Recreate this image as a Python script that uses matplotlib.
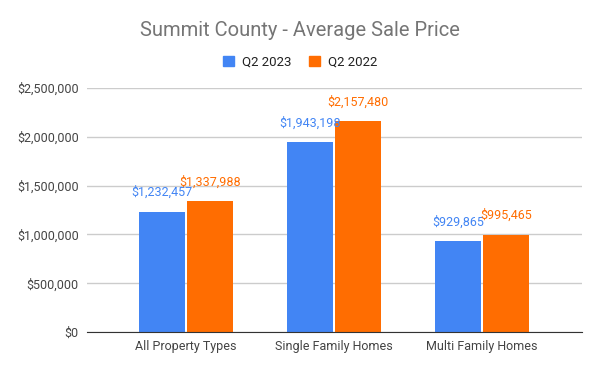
import matplotlib
matplotlib.use("Agg")
import matplotlib.pyplot as plt
import matplotlib.patches as mpatches
import numpy as np

categories = ["All Property Types", "Single Family Homes", "Multi Family Homes"]
q2_2023 = [1232457, 1943198, 929865]
q2_2022 = [1337988, 2157480, 995465]
series_names = ["Q2 2023", "Q2 2022"]
yticks = [0, 500000, 1000000, 1500000, 2000000, 2500000]

blue = "#4285F4"
orange = "#FF6D01"

plt.rcParams["font.family"] = ["Roboto", "DejaVu Sans"]

fig = plt.figure(figsize=(6, 3.71), dpi=100)
ax = fig.add_axes([0.145, 0.105, 0.825, 0.658])

x = np.arange(len(categories))
w = 0.311
gap = 0.007
b1 = ax.bar(x - w / 2 - gap, q2_2023, width=w, color=blue, zorder=3)
b2 = ax.bar(x + w / 2 + gap, q2_2022, width=w, color=orange, zorder=3)

for bars, vals, col in [(b1, q2_2023, blue), (b2, q2_2022, orange)]:
    for rect, v in zip(bars, vals):
        ax.annotate(f"${v:,}", (rect.get_x() + rect.get_width() / 2, v),
                    xytext=(0, 14), textcoords="offset points",
                    ha="center", va="center", color=col, fontsize=9, zorder=4)

ax.set_xlim(-0.669, 2.676)
ax.set_ylim(0, 2500000)
ax.set_yticks(yticks)
ax.set_yticklabels([f"${t:,}" for t in yticks])
ax.set_xticks(x)
ax.set_xticklabels(categories)
ax.tick_params(axis="both", length=0, labelsize=9, labelcolor="#444444")
ax.tick_params(axis="x", pad=6)
ax.tick_params(axis="y", pad=6)
ax.grid(axis="y", color="#cccccc", linewidth=1, zorder=0)
for s in ["left", "right", "top"]:
    ax.spines[s].set_visible(False)
ax.spines["bottom"].set_color("#333333")
ax.spines["bottom"].set_zorder(5)

fig.text(0.5, 1 - 31 / 371, "Summit County - Average Sale Price",
         ha="center", va="center", fontsize=14.5, color="#757575")

handles = [mpatches.Patch(color=blue, label=series_names[0]),
           mpatches.Patch(color=orange, label=series_names[1])]
fig.legend(handles=handles, loc="center", bbox_to_anchor=(0.5, 1 - 62 / 371),
           ncol=2, frameon=False, fontsize=9.5, handlelength=0.85, handleheight=0.85,
           handletextpad=0.6, columnspacing=1.3, labelcolor="#222222")

fig.savefig("out.png", dpi=100)
